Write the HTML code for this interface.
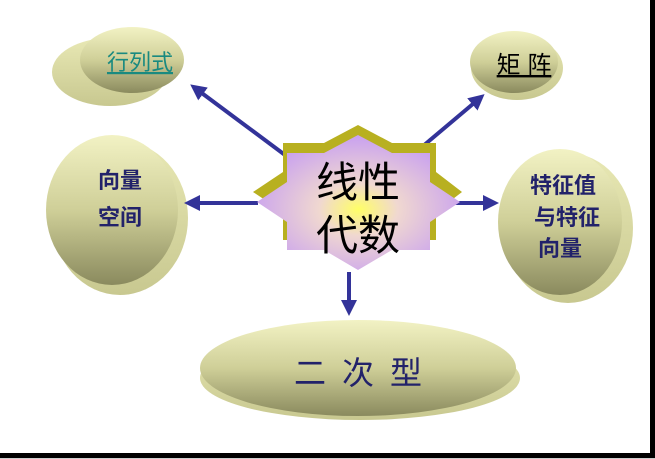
<!DOCTYPE html>
<html><head><meta charset="utf-8"><style>
html,body{margin:0;padding:0;background:#fff;}
svg{display:block;}
text{font-family:"Liberation Sans","Noto Sans CJK SC",sans-serif;}
</style></head><body>
<svg width="655" height="459" viewBox="0 0 655 459" xmlns="http://www.w3.org/2000/svg">
<defs>
<linearGradient id="g" x1="0" y1="0" x2="0" y2="1">
<stop offset="0" stop-color="#f2f2c4"/><stop offset="0.5" stop-color="#cfcf98"/><stop offset="1" stop-color="#8a8a5e"/>
</linearGradient>
<linearGradient id="gs" x1="0" y1="0" x2="0" y2="1">
<stop offset="0" stop-color="#e8e8b4"/><stop offset="1" stop-color="#c8c890"/>
</linearGradient>
<radialGradient id="sg" cx="0.5" cy="0.55" r="0.55">
<stop offset="0" stop-color="#ffff66"/><stop offset="0.35" stop-color="#f0d8d0"/><stop offset="1" stop-color="#c8a0f0"/>
</radialGradient>
<marker id="ah" markerWidth="4" markerHeight="4" refX="2.5" refY="2" orient="auto" markerUnits="strokeWidth">
<path d="M0,0 L4,2 L0,4 Z" fill="#333399"/></marker>
</defs>
<rect x="0" y="0" width="650" height="454" fill="#fff"/>
<rect x="650" y="0" width="5" height="459" fill="#000"/>
<rect x="0" y="453" width="655" height="5" fill="#000"/>
<rect x="0" y="458" width="655" height="1" fill="#ccc"/>

<ellipse cx="110" cy="72" rx="58" ry="34" fill="url(#gs)"/>
<ellipse cx="132" cy="60" rx="52" ry="33" fill="url(#g)"/>
<text x="140" y="70" font-size="22" fill="#1a8a80" text-anchor="middle" text-decoration="underline">行列式</text>

<ellipse cx="517" cy="68" rx="46" ry="32" fill="url(#gs)"/>
<ellipse cx="514" cy="62" rx="44" ry="31" fill="url(#g)"/>
<text x="524" y="73" font-size="24" fill="#000" text-anchor="middle" text-decoration="underline">矩 阵</text>

<ellipse cx="120" cy="218" rx="68" ry="77" fill="url(#gs)"/>
<ellipse cx="112" cy="210" rx="66" ry="75" fill="url(#g)"/>
<text x="120" y="188" font-size="22" fill="#22226a" text-anchor="middle" font-weight="bold">向量</text>
<text x="120" y="225" font-size="22" fill="#22226a" text-anchor="middle" font-weight="bold">空间</text>

<ellipse cx="568" cy="228" rx="65" ry="75" fill="url(#gs)"/>
<ellipse cx="560" cy="222" rx="62" ry="73" fill="url(#g)"/>
<text x="563" y="193" font-size="22" fill="#22226a" text-anchor="middle" font-weight="bold">特征值</text>
<text x="567" y="225" font-size="22" fill="#22226a" text-anchor="middle" font-weight="bold">与特征</text>
<text x="560" y="256" font-size="22" fill="#22226a" text-anchor="middle" font-weight="bold">向量</text>

<ellipse cx="360" cy="378" rx="160" ry="42" fill="url(#gs)"/>
<ellipse cx="358" cy="368" rx="158" ry="48" fill="url(#g)"/>
<text x="366" y="384" font-size="32" fill="#22226a" text-anchor="middle" letter-spacing="16">二次型</text>

<g stroke="#333399" stroke-width="4" fill="none">
<line x1="285" y1="155" x2="195" y2="88" marker-end="url(#ah)"/>
<line x1="410" y1="157" x2="480" y2="98" marker-end="url(#ah)"/>
<line x1="258" y1="203" x2="190" y2="203" marker-end="url(#ah)"/>
<line x1="440" y1="203" x2="493" y2="203" marker-end="url(#ah)"/>
<line x1="349" y1="272" x2="349" y2="310" marker-end="url(#ah)"/>
</g>

<polygon points="358,125 392,143 436,143 436,172 462,192 436,212 436,240 392,240 358,260 324,240 283,240 283,212 253,192 283,172 283,143 324,143" fill="#b8b020"/>
<polygon points="358,135 392,153 430,153 430,182 460,202 430,222 430,250 392,250 358,270 324,250 287,250 287,222 257,202 287,182 287,153 324,153" fill="url(#sg)"/>
<text x="358" y="197" font-size="42" fill="#000" text-anchor="middle">线性</text>
<text x="358" y="250" font-size="42" fill="#000" text-anchor="middle">代数</text>
</svg>
</body></html>
